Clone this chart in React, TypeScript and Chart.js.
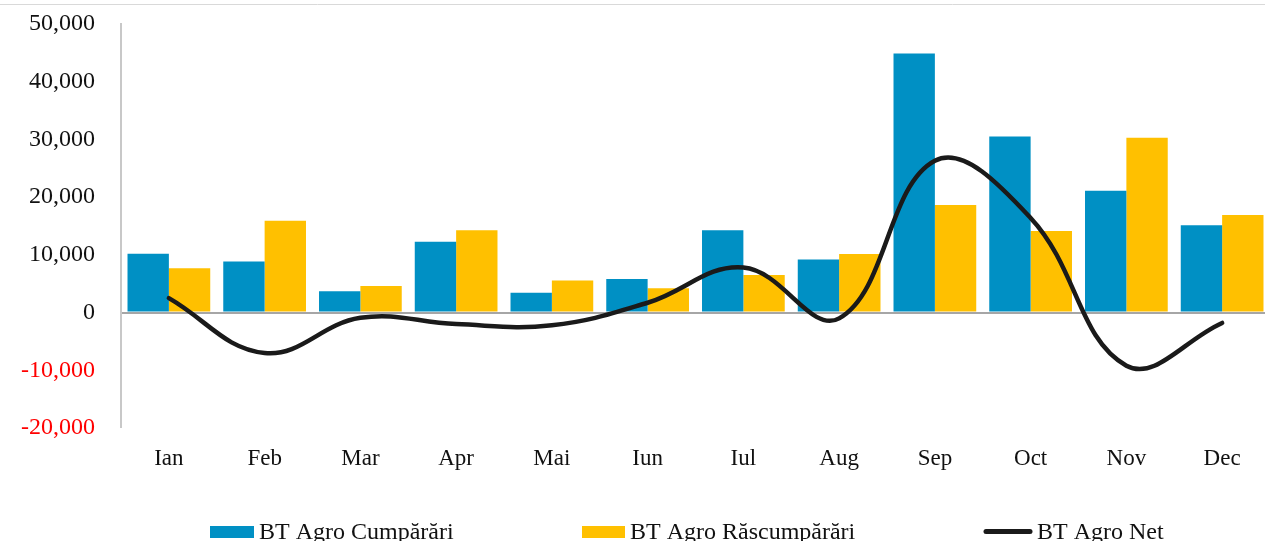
import React, { useEffect, useRef } from "react";
import { Chart, registerables } from "chart.js";

Chart.register(...registerables);

const categories = ["Ian", "Feb", "Mar", "Apr", "Mai", "Iun", "Iul", "Aug", "Sep", "Oct", "Nov", "Dec"];
const cumparari = [10200, 8850, 3700, 12250, 3450, 5800, 14250, 9200, 44900, 30500, 21100, 15150];
const rascumparari = [7700, 15900, 4600, 14250, 5550, 4200, 6500, 10150, 18650, 14150, 30300, 16900];
const net = [2500, -7000, -900, -2000, -2200, 1700, 7800, -1000, 26300, 16400, -9200, -1800];
const yTicks = [-20000, -10000, 0, 10000, 20000, 30000, 40000, 50000];

const FONT = "'Liberation Serif', 'Times New Roman', serif";
const BLUE = "#0090C4";
const GOLD = "#FFC000";
const LINE = "#1a1a1a";

const legendPos = [
  { x: 210, w: 44 },
  { x: 582, w: 43 },
  { x: 984, w: 48 },
];

const decorPlugin = {
  id: "decor",
  beforeDraw(chart: any) {
    const ctx = chart.ctx;
    ctx.save();
    ctx.strokeStyle = "#d9d9d9";
    ctx.lineWidth = 1;
    ctx.beginPath();
    ctx.moveTo(0, 4.5);
    ctx.lineTo(chart.width, 4.5);
    ctx.stroke();
    ctx.restore();
  },
  afterDraw(chart: any) {
    const ctx = chart.ctx;
    ctx.save();
    ctx.font = `24px ${FONT}`;
    ctx.textBaseline = "alphabetic";
    ctx.textAlign = "left";
    chart.data.datasets.forEach((ds: any, i: number) => {
      const p = legendPos[i];
      if (!p) return;
      if (ds.type === "line") {
        ctx.strokeStyle = ds.borderColor;
        ctx.lineWidth = 5;
        ctx.lineCap = "round";
        ctx.beginPath();
        ctx.moveTo(p.x + 2, 531.5);
        ctx.lineTo(p.x + p.w - 2, 531.5);
        ctx.stroke();
      } else {
        ctx.fillStyle = ds.backgroundColor;
        ctx.fillRect(p.x, 526, p.w, 12);
      }
      ctx.fillStyle = "#111";
      ctx.fillText(ds.label, p.x + p.w + 5, 539);
    });
    ctx.restore();
  },
};

export default function App() {
  const ref = useRef<HTMLCanvasElement | null>(null);
  useEffect(() => {
    if (!ref.current) return;
    const chart = new Chart(ref.current, {
      type: "bar",
      data: {
        labels: categories,
        datasets: [
          {
            type: "bar",
            label: "BT Agro Cumpărări",
            data: cumparari,
            backgroundColor: BLUE,
            order: 2,
            categoryPercentage: 0.864,
            barPercentage: 1.0,
          },
          {
            type: "bar",
            label: "BT Agro Răscumpărări",
            data: rascumparari,
            backgroundColor: GOLD,
            order: 2,
            categoryPercentage: 0.864,
            barPercentage: 1.0,
          },
          {
            type: "line",
            label: "BT Agro Net",
            data: net,
            borderColor: LINE,
            backgroundColor: LINE,
            borderWidth: 4.5,
            pointRadius: 0,
            tension: 0.4,
            borderCapStyle: "round",
            order: 1,
          } as any,
        ],
      },
      options: {
        responsive: false,
        animation: false,
        devicePixelRatio: 1,
        layout: { padding: { top: 24, left: 0, right: 0, bottom: 0 } },
        plugins: {
          legend: { display: false },
          tooltip: { enabled: false },
        },
        scales: {
          x: {
            grid: { display: false },
            border: { display: false },
            ticks: {
              font: { family: FONT, size: 23 },
              color: "#111",
              padding: 9,
              maxRotation: 0,
            },
            afterFit(scale: any) {
              scale.height = 113;
              scale.paddingLeft = 0;
              scale.paddingRight = 0;
            },
          },
          y: {
            min: -20000,
            max: 50000,
            afterBuildTicks(scale: any) {
              scale.ticks = yTicks.map((v) => ({ value: v }));
            },
            grid: {
              drawTicks: false,
              color: (c: any) => (c.tick && c.tick.value === 0 ? "#a6a6a6" : "rgba(0,0,0,0)"),
              lineWidth: (c: any) => (c.tick && c.tick.value === 0 ? 2 : 0),
            },
            border: { display: true, color: "#c8c8c8", width: 2 },
            ticks: {
              font: { family: FONT, size: 24 },
              color: (c: any) => (c.tick && c.tick.value < 0 ? "#ff0000" : "#111"),
              padding: 26,
              callback: (v: any) => Number(v).toLocaleString("en-US"),
            },
            afterFit(scale: any) {
              scale.width = 121;
              scale.paddingTop = 0;
              scale.paddingBottom = 0;
            },
          },
        },
      },
      plugins: [decorPlugin],
    });
    return () => chart.destroy();
  }, []);

  return (
    <div style={{ position: "fixed", left: 0, top: 0, width: 1265, height: 541, overflow: "hidden", background: "#fff" }}>
      <canvas ref={ref} width={1270} height={541} style={{ width: 1270, height: 541, display: "block" }} />
    </div>
  );
}
